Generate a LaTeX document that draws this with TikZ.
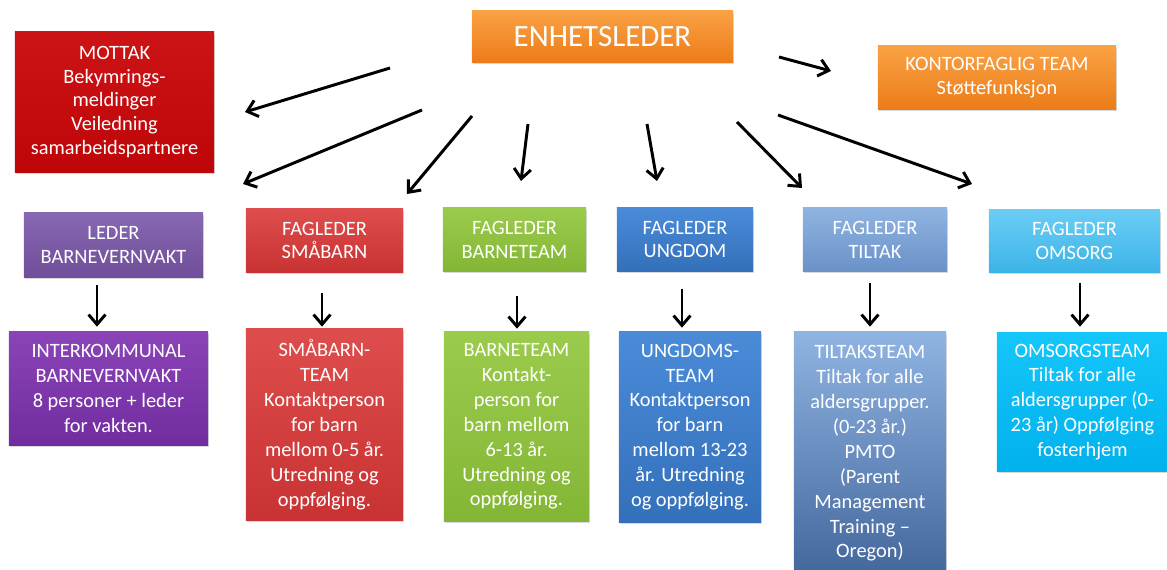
\documentclass[tikz,border=0pt]{standalone}
\usepackage{fontspec}
\setmainfont{Carlito}
\usetikzlibrary{arrows.meta,shadows}

\definecolor{mottaktop}{HTML}{CC1416}
\definecolor{mottakbot}{HTML}{BE0508}
\definecolor{orangetop}{HTML}{F9A244}
\definecolor{orangebot}{HTML}{EC7C1A}
\definecolor{ledertop}{HTML}{8868B2}
\definecolor{lederbot}{HTML}{704E9A}
\definecolor{vakttop}{HTML}{8A44B8}
\definecolor{vaktbot}{HTML}{712C9F}
\definecolor{redtop}{HTML}{DE4D4D}
\definecolor{redbot}{HTML}{C83232}
\definecolor{greentop}{HTML}{9BCB4C}
\definecolor{greenbot}{HTML}{84B636}
\definecolor{bluetop}{HTML}{4A8BD8}
\definecolor{bluebot}{HTML}{3470BA}
\definecolor{steeltop}{HTML}{8FB4E2}
\definecolor{steelbot}{HTML}{6B92C7}
\definecolor{steeldark}{HTML}{44679C}
\definecolor{skytop}{HTML}{6ACDF5}
\definecolor{skybot}{HTML}{3CB4E7}
\definecolor{cyantop}{HTML}{14C6FA}
\definecolor{cyanbot}{HTML}{00B1EC}

\begin{document}
\begin{tikzpicture}[x=0.025cm,y=-0.025cm,
  box/.style={shape=rectangle,inner sep=0pt,text=white,align=center,
    font=\fontsize{14.5}{17}\selectfont,
    drop shadow={opacity=0.3,shadow xshift=0.6pt,shadow yshift=-1.2pt}},
  tallbox/.style={box,font=\fontsize{14.5}{17.7}\selectfont},
  mottakfill/.style={top color=mottaktop,bottom color=mottakbot},
  orangefill/.style={top color=orangetop,bottom color=orangebot},
  lederfill/.style={top color=ledertop,bottom color=lederbot},
  vaktfill/.style={top color=vakttop,bottom color=vaktbot},
  redfill/.style={top color=redtop,bottom color=redbot},
  greenfill/.style={top color=greentop,bottom color=greenbot},
  bluefill/.style={top color=bluetop,bottom color=bluebot},
  steelfill/.style={top color=steeltop,bottom color=steelbot},
  skyfill/.style={top color=skytop,bottom color=skybot},
  cyanfill/.style={top color=cyantop,bottom color=cyanbot},
  arr/.style={-{Straight Barb[length=7pt,width=12pt]},line width=2.1pt}]
\useasboundingbox (0,0) rectangle (1167,570);
% top row
\node (enhet) at (602.5,36.5) [box,orangefill,minimum width=6.525cm,minimum height=1.275cm,font=\fontsize{22}{26}\selectfont] {ENHETSLEDER};
\node (mottak) at (114.5,102) [box,mottakfill,minimum width=4.975cm,minimum height=3.5cm] {MOTTAK\\Bekymrings-\\meldinger\\Veiledning\\samarbeidspartnere};
\node (kontor) at (997,77.5) [box,orangefill,minimum width=5.95cm,minimum height=1.575cm] {KONTORFAGLIG TEAM\\Støttefunksjon};
% leaders
\node (lbv) at (113.5,245) [box,lederfill,minimum width=4.475cm,minimum height=1.6cm] {LEDER\\BARNEVERNVAKT};
\node (fsmaa) at (324.5,240.5) [box,redfill,minimum width=3.925cm,minimum height=1.575cm] {FAGLEDER\\SMÅBARN};
\node (fbarn) at (514.5,239.5) [box,greenfill,minimum width=3.575cm,minimum height=1.575cm] {FAGLEDER\\BARNETEAM};
\node (fung) at (685,239.5) [box,bluefill,minimum width=3.4cm,minimum height=1.575cm] {FAGLEDER\\UNGDOM};
\node (ftil) at (875,239.5) [box,steelfill,minimum width=3.6cm,minimum height=1.575cm] {FAGLEDER\\TILTAK};
\node (foms) at (1074.5,241) [box,skyfill,minimum width=4.275cm,minimum height=1.55cm] {FAGLEDER\\OMSORG};
% teams
\node (ikbv) at (108.5,388.5) [tallbox,vaktfill,minimum width=4.975cm,minimum height=2.825cm] {INTERKOMMUNAL\\BARNEVERNVAKT\\8 personer + leder\\for vakten.};
\node (tsmaa) at (324.5,424.5) [tallbox,redfill,minimum width=3.925cm,minimum height=4.775cm] {SMÅBARN-\\TEAM\\Kontaktperson\\for barn\\mellom 0-5 år.\\Utredning og\\oppfølging.};
\node (tbarn) at (516.5,426.5) [tallbox,greenfill,minimum width=3.625cm,minimum height=4.725cm] {BARNETEAM\\Kontakt-\\person for\\barn mellom\\6-13 år.\\Utredning og\\oppfølging.};
\node (tung) at (690,427) [tallbox,bluefill,minimum width=3.55cm,minimum height=4.75cm] {UNGDOMS-\\TEAM\\Kontaktperson\\for barn\\mellom 13-23\\år. Utredning\\og oppfølging.};
\node (ttil) at (870,453.5) [tallbox,top color=steeltop,bottom color=steeldark,minimum width=3.8cm,minimum height=6.075cm] {TILTAKSTEAM\\Tiltak for alle\\aldersgrupper.\\(0-23 år.)\\PMTO\\(Parent\\Management\\Training –\\Oregon)};
\node (toms) at (1082.5,402) [tallbox,cyanfill,minimum width=4.275cm,minimum height=3.45cm] {OMSORGSTEAM\\Tiltak for alle\\aldersgrupper (0-\\23 år) Oppfølging\\fosterhjem};
% free arrows from the top
\coordinate (a1) at (390,68);  \coordinate (b1) at (245,112);
\coordinate (a2) at (422,110); \coordinate (b2) at (243,184);
\coordinate (a3) at (472,116); \coordinate (b3) at (407,194);
\coordinate (a4) at (528,124); \coordinate (b4) at (521,181);
\coordinate (a5) at (647,124); \coordinate (b5) at (657,181);
\coordinate (a6) at (737,122); \coordinate (b6) at (802,188);
\coordinate (a7) at (778,115); \coordinate (b7) at (972,184);
\coordinate (a8) at (779,57);  \coordinate (b8) at (831,71);
\foreach \i in {1,...,8}
  \draw[arr] (a\i) -- (b\i);
% leaders to teams
\draw[arr,shorten <=0.2cm,shorten >=0.125cm] (lbv.south -| 97,0) -- (ikbv.north -| 97,0);
\draw[arr,shorten <=0.525cm,shorten >=0.05cm] (fsmaa.south -| 322,0) -- (tsmaa.north -| 322,0);
\draw[arr,shorten <=0.625cm,shorten >=0.075cm] (fbarn.south -| 517,0) -- (tbarn.north -| 517,0);
\draw[arr,shorten <=0.45cm,shorten >=0.1cm] (fung.south -| 682,0) -- (tung.north -| 682,0);
\draw[arr,shorten <=0.3cm,shorten >=0.125cm] (ftil.south -| 870,0) -- (ttil.north -| 870,0);
\draw[arr,shorten <=0.275cm,shorten >=0.15cm] (foms.south -| 1080,0) -- (toms.north -| 1080,0);
\end{tikzpicture}
\end{document}
